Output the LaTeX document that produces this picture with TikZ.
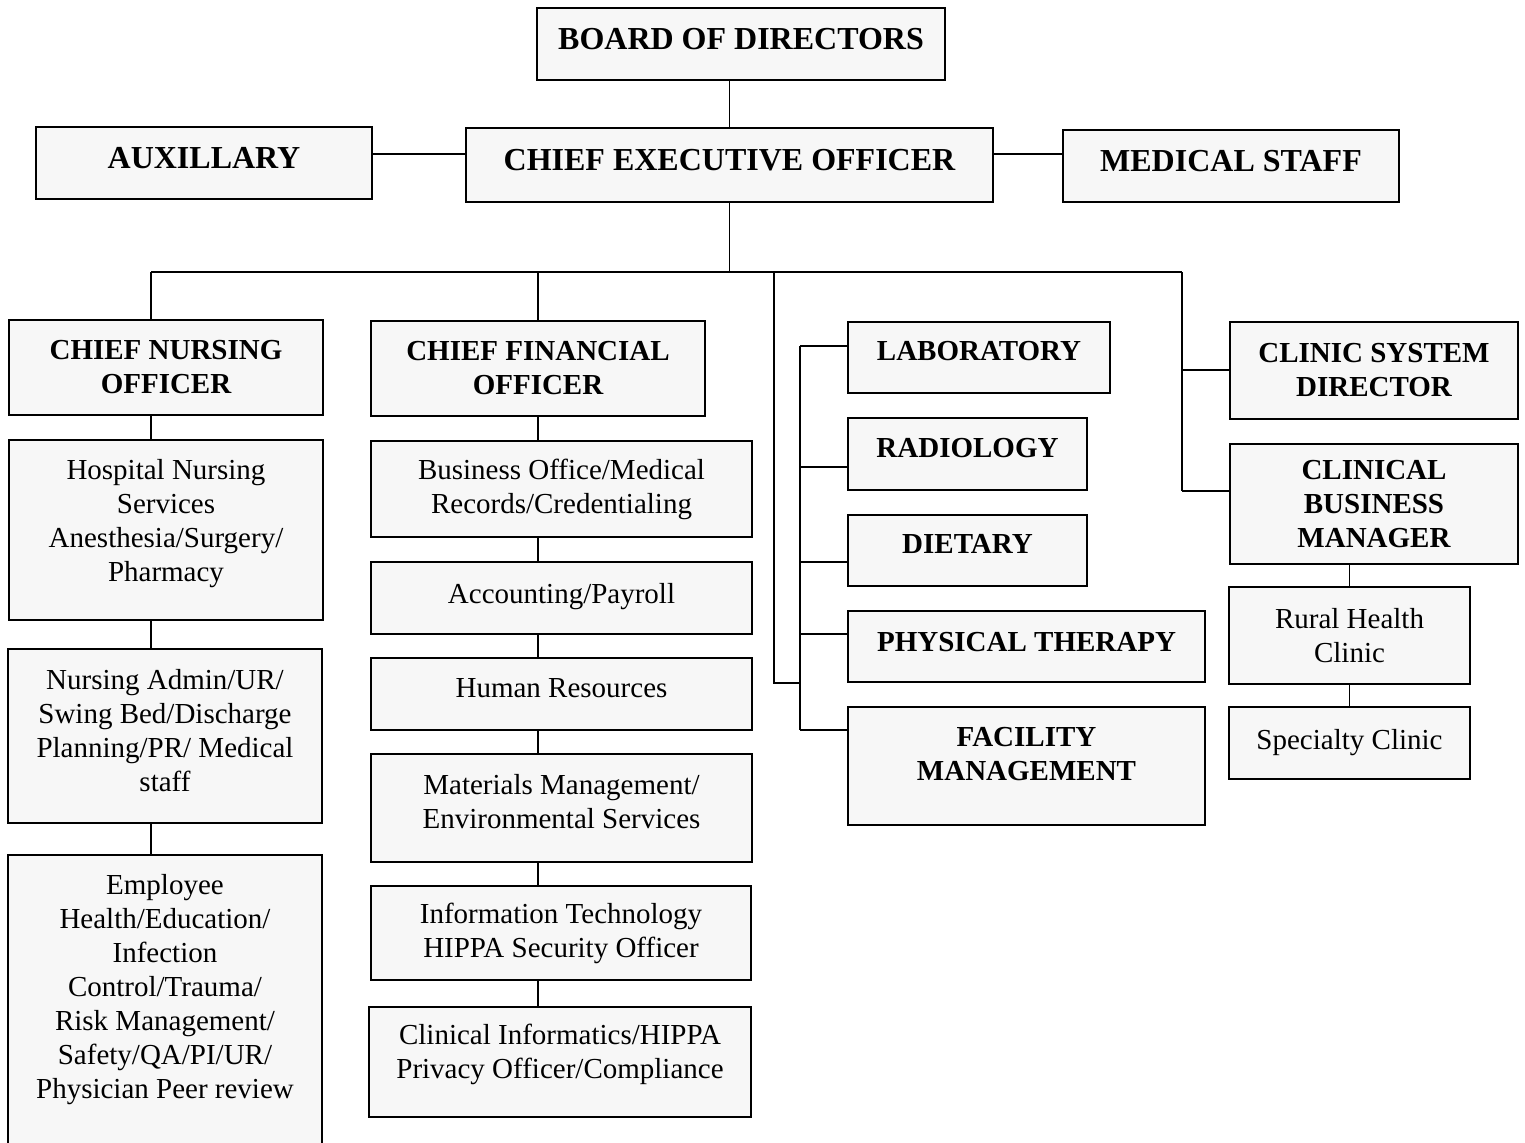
\documentclass[tikz,border=0pt]{standalone}
\usepackage{fontspec}
\setmainfont{Liberation Serif}

\begin{document}
\begin{tikzpicture}[x=0.5pt, y=-0.5pt,
    head/.style={draw, line width=1.3pt, fill=black!3, align=center, inner sep=0pt, font=\fontsize{14.5}{17}\selectfont\bfseries},
    top/.style={head, text depth=5pt, font=\fontsize{16}{17}\selectfont\bfseries},
    unit/.style={draw, line width=1.1pt, fill=black!3, align=center, inner sep=0pt, font=\fontsize{14.5}{17}\selectfont},
    link/.style={line width=0.9pt}]
    \useasboundingbox (0,0) rectangle (1525,1142);

    \node[top, minimum width=204pt, minimum height=36pt] (board) at (741,44) {BOARD OF DIRECTORS};
    \node[top, minimum width=263.5pt, minimum height=37pt] (ceo) at (729.5,165) {CHIEF EXECUTIVE OFFICER};
    \node[top, minimum width=168pt, minimum height=36pt] (aux) at (204,163) {AUXILLARY};
    \node[top, minimum width=168pt, minimum height=36pt] (med) at (1231,166) {MEDICAL STAFF};

    \node[head, minimum width=157pt, minimum height=47.5pt] (cno) at (166,367.5) {CHIEF NURSING\\OFFICER};
    \node[unit, minimum width=157pt, minimum height=90pt, text depth=10pt] (nur1) at (166,530) {Hospital Nursing\\Services\\Anesthesia/Surgery/\\Pharmacy};
    \node[unit, minimum width=157pt, minimum height=87pt, text depth=6pt] (nur2) at (165,736) {Nursing Admin/UR/\\Swing Bed/Discharge\\Planning/PR/ Medical\\staff};
    \node[unit, minimum width=157pt, minimum height=145.5pt, text depth=14pt] (nur3) at (165,1000.5) {Employee\\Health/Education/\\Infection\\Control/Trauma/\\Risk Management/\\Safety/QA/PI/UR/\\Physician Peer review};

    \node[head, minimum width=167pt, minimum height=47.5pt] (cfo) at (538,368.5) {CHIEF FINANCIAL\\OFFICER};
    \node[unit, minimum width=190.5pt, minimum height=48pt] (fin1) at (561.5,489) {Business Office/Medical\\Records/Credentialing};
    \node[unit, minimum width=190.5pt, minimum height=36pt, text depth=5pt] (fin2) at (561.5,598) {Accounting/Payroll};
    \node[unit, minimum width=190.5pt, minimum height=36pt, text depth=6pt] (fin3) at (561.5,694) {Human Resources};
    \node[unit, minimum width=190.5pt, minimum height=54pt, text depth=7pt] (fin4) at (561.5,808) {Materials Management/\\Environmental Services};
    \node[unit, minimum width=190pt, minimum height=47pt] (fin5) at (561,933) {Information Technology\\HIPPA Security Officer};
    \node[unit, minimum width=191pt, minimum height=55pt, text depth=11pt] (fin6) at (560,1062) {Clinical Informatics/HIPPA\\Privacy Officer/Compliance};

    \node[head, minimum width=131pt, minimum height=35.5pt, text depth=7pt] (lab) at (979,357.5) {LABORATORY};
    \node[head, minimum width=119.5pt, minimum height=36pt, text depth=6pt] (rad) at (967.5,454) {RADIOLOGY};
    \node[head, minimum width=119.5pt, minimum height=35.5pt, text depth=7pt] (diet) at (967.5,550.5) {DIETARY};
    \node[head, minimum width=178.5pt, minimum height=35.5pt, text depth=5pt] (pt) at (1026.5,646.5) {PHYSICAL THERAPY};
    \node[head, minimum width=178.5pt, minimum height=59pt, text depth=12pt] (fac) at (1026.5,766) {FACILITY\\MANAGEMENT};

    \node[head, minimum width=144pt, minimum height=48.5pt] (csd) at (1374,370.5) {CLINIC SYSTEM\\DIRECTOR};
    \node[head, minimum width=144pt, minimum height=60pt] (cbm) at (1374,504) {CLINICAL\\BUSINESS\\MANAGER};
    \node[unit, minimum width=120.5pt, minimum height=48.5pt] (rhc) at (1349.5,635.5) {Rural Health\\Clinic};
    \node[unit, minimum width=120.5pt, minimum height=36pt] (spc) at (1349.5,743) {Specialty Clinic};

    \coordinate (ceoL) at ([yshift=5.5pt]ceo.west);
    \coordinate (ceoR) at ([yshift=5.5pt]ceo.east);
    \coordinate (bus) at (729.5,272);
    \coordinate (nbus) at (151,272);
    \coordinate (fbus) at (538,272);
    \coordinate (mbus) at (774,272);
    \coordinate (cbus) at (1182,272);
    \coordinate (dbus) at (800,346);
    \coordinate (kcsd) at (1182,370);
    \coordinate (kcbm) at (1182,491);

    \draw[link] (board.south -| ceo.north) -- (ceo.north);
    \draw[link] (ceoL) -- (ceoL -| aux.east);
    \draw[link] (ceoR) -- (ceoR -| med.west);
    \draw[link] (ceo.south) -- (bus);
    \draw[link] (nbus) -- (cbus);
    \draw[link] (nbus) -- (nbus |- cno.north);
    \draw[link] (fbus) -- (fbus |- cfo.north);
    \draw[link] (mbus) |- (dbus |- pt.south);
    \foreach \n/\y in {lab/346, rad/467, diet/562, pt/634, fac/730} {
        \coordinate (j\n) at (800,\y);
        \draw[link] (j\n) -- (j\n -| \n.west);
    }
    \draw[link] (jlab) -- (jfac);
    \draw[link] (cbus) -- (kcbm);
    \draw[link] (kcsd) -- (kcsd -| csd.west);
    \draw[link] (kcbm) -- (kcbm -| cbm.west);
    \foreach \a/\b in {cno/nur1, nur1/nur2, nur2/nur3}
        \draw[link] (nbus |- \a.south) -- (nbus |- \b.north);
    \foreach \a/\b in {cfo/fin1, fin1/fin2, fin2/fin3, fin3/fin4, fin4/fin5, fin5/fin6}
        \draw[link] (fbus |- \a.south) -- (fbus |- \b.north);
    \draw[link] (rhc.north |- cbm.south) -- (rhc.north);
    \draw[link] (rhc.south) -- (spc.north);
\end{tikzpicture}
\end{document}
